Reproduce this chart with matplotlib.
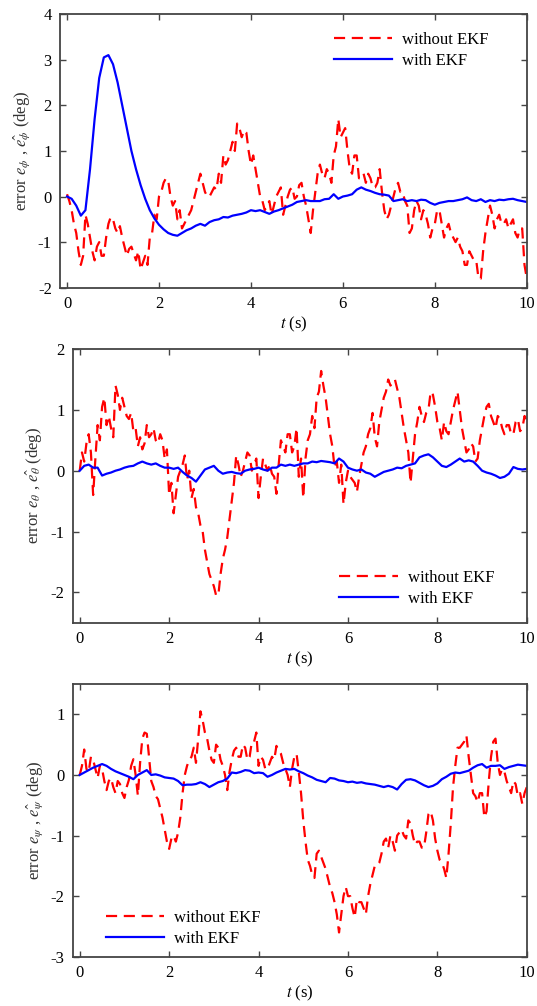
import numpy as np
import matplotlib
matplotlib.use("Agg")
import matplotlib.pyplot as plt

# ==========================================
# Data
# red (without EKF): 0.05 s step, blue (with EKF): 0.1 s step
# ==========================================
phi_no_ekf = [0.05, -0.1, -0.3, -0.6, -0.8, -1.2, -1.5, -1.3, -0.4, -0.6,
              -0.9, -1.2, -1.4, -1.1, -1.0, -1.3, -1.3, -0.9, -0.6, -0.45,
              -0.5, -0.7, -0.8, -0.65, -0.9, -1.1, -1.3, -1.15, -1.1, -1.25,
              -1.4, -1.2, -1.6, -1.45, -1.3, -1.5, -0.9, -0.8, -0.4, -0.5,
              0.0, 0.1, 0.3, 0.4, 0.35, 0.0, -0.2, -0.1, -0.5, -0.3,
              -0.7, -0.6, -0.5, -0.4, -0.3, -0.1, 0.1, 0.3, 0.5, 0.3,
              0.1, 0.0, 0.0, 0.1, 0.2, 0.15, 0.5, 0.3, 0.9, 0.7,
              0.8, 1.0, 1.2, 1.0, 1.6, 1.5, 1.3, 1.45, 1.4, 1.0,
              0.7, 0.9, 0.6, 0.3, 0.0, -0.1, -0.3, -0.2, -0.1, -0.4,
              -0.2, 0.0, 0.1, 0.2, -0.4, -0.2, 0.0, 0.15, 0.2, -0.05,
              0.0, 0.25, 0.3, 0.0, -0.2, -0.5, -0.8, -0.3, 0.1, 0.5,
              0.7, 0.5, 0.4, 0.6, 0.5, 0.3, 0.9, 1.1, 1.7, 1.3,
              1.4, 1.5, 1.0, 0.6, 0.5, 0.9, 0.9, 0.4, 0.4, 0.5,
              0.3, 0.5, 0.4, 0.2, 0.2, 0.3, 0.6, 0.1, -0.3, -0.5,
              -0.4, -0.2, 0.0, 0.2, 0.3, 0.1, 0.1, -0.1, -0.2, -0.8,
              -0.7, -0.3, -0.1, -0.2, -0.5, -0.3, -0.4, -0.6, -0.9, -0.7,
              -0.6, -0.3, -0.3, -0.6, -0.9, -0.7, -0.6, -0.8, -0.9, -1.0,
              -0.9, -1.1, -1.2, -1.5, -1.5, -1.2, -1.3, -1.4, -1.4, -1.8,
              -1.8, -1.2, -0.8, -0.5, -0.2, -0.4, -0.7, -0.5, -0.4, -0.6,
              -0.6, -0.5, -0.7, -0.6, -0.5, -0.8, -0.9, -0.7, -0.7, -1.5,
              -1.8]
phi_ekf = [0.0, -0.05, -0.2, -0.42, -0.3, 0.6, 1.7, 2.6, 3.05, 3.1,
           2.9, 2.5, 2.0, 1.5, 1.0, 0.6, 0.25, -0.05, -0.3, -0.48,
           -0.62, -0.72, -0.8, -0.84, -0.86, -0.8, -0.74, -0.7, -0.64, -0.6,
           -0.64, -0.56, -0.52, -0.5, -0.45, -0.46, -0.42, -0.4, -0.38, -0.35,
           -0.3, -0.32, -0.3, -0.34, -0.38, -0.33, -0.3, -0.26, -0.22, -0.18,
           -0.12, -0.1, -0.08, -0.1, -0.1, -0.1, -0.06, -0.05, 0.05, -0.05,
           0.0, 0.02, 0.05, 0.15, 0.2, 0.15, 0.12, 0.08, 0.05, 0.04,
           0.02, -0.1, -0.08, -0.06, -0.1, -0.08, -0.1, -0.07, -0.08, -0.14,
           -0.18, -0.14, -0.12, -0.1, -0.1, -0.08, -0.06, -0.02, -0.08, -0.1,
           -0.06, -0.12, -0.08, -0.1, -0.07, -0.08, -0.06, -0.05, -0.08, -0.1,
           -0.12]

theta_no_ekf = [0.0, 0.3, 0.15, 0.45, 0.6, 0.3, -0.4, 0.2, 0.75, 0.5,
                1.05, 1.2, 0.75, 0.9, 0.7, 0.55, 1.4, 1.25, 1.0, 1.2,
                1.05, 0.9, 0.85, 0.95, 0.65, 0.7, 0.4, 0.55, 0.35, 0.45,
                0.75, 0.55, 0.6, 0.7, 0.5, 0.45, 0.6, 0.5, 0.2, 0.35,
                -0.4, -0.2, -0.7, -0.4, -0.1, 0.0, 0.1, 0.25, -0.15, 0.0,
                -0.45, -0.3, -0.6, -0.7, -0.9, -1.0, -1.3, -1.5, -1.7, -1.8,
                -1.9, -2.05, -2.05, -1.7, -1.45, -1.3, -1.1, -0.8, -0.5, -0.2,
                0.25, 0.1, -0.1, 0.0, 0.15, 0.3, 0.25, 0.0, 0.1, 0.2,
                -0.45, -0.1, 0.2, 0.1, 0.0, 0.1, -0.05, -0.1, -0.38, 0.1,
                0.5, 0.4, 0.3, 0.6, 0.6, 0.3, 0.4, 0.7, -0.1, 0.2,
                -0.45, 0.2, 0.5, 0.6, 0.9, 0.7, 1.2, 1.3, 1.64, 1.4,
                1.2, 0.9, 0.6, 0.4, 0.05, 0.15, -0.2, 0.1, -0.55, -0.2,
                0.0, -0.1, -0.15, -0.2, -0.35, -0.1, 0.1, 0.3, 0.4, 0.6,
                0.7, 0.95, 0.55, 0.4, 0.8, 1.0, 1.2, 1.3, 1.5, 1.4,
                1.45, 1.5, 1.35, 1.2, 0.95, 0.7, 0.5, 0.3, -0.2, 0.2,
                0.6, 0.8, 1.05, 0.9, 0.8, 0.95, 1.0, 1.3, 1.25, 1.05,
                0.8, 0.7, 0.5, 0.8, 0.65, 0.6, 0.8, 1.0, 1.15, 1.3,
                1.0, 0.7, 0.5, 0.3, 0.35, 0.45, 0.4, 0.15, 0.2, 0.5,
                0.7, 0.9, 1.05, 1.1, 0.9, 0.8, 0.7, 0.9, 0.85, 0.7,
                0.6, 0.75, 0.75, 0.6, 0.6, 0.8, 0.85, 0.65, 0.7, 0.9,
                0.8]
theta_ekf = [0.0, 0.08, 0.1, 0.05, 0.05, -0.08, -0.05, -0.03, 0.0, 0.02,
             0.05, 0.07, 0.08, 0.12, 0.15, 0.12, 0.1, 0.12, 0.08, 0.05,
             0.05, 0.03, 0.05, -0.02, -0.08, -0.12, -0.18, -0.08, 0.02, 0.05,
             0.08, 0.0, -0.05, -0.03, -0.02, -0.04, -0.05, 0.0, 0.02, 0.03,
             0.05, 0.02, 0.0, 0.05, 0.05, 0.1, 0.08, 0.1, 0.08, 0.1,
             0.12, 0.12, 0.15, 0.14, 0.16, 0.15, 0.14, 0.12, 0.2, 0.15,
             0.05, 0.02, 0.0, 0.02, -0.03, -0.05, -0.1, -0.06, -0.02, 0.0,
             0.02, 0.05, 0.04, 0.08, 0.1, 0.12, 0.22, 0.25, 0.27, 0.22,
             0.15, 0.08, 0.06, 0.1, 0.15, 0.2, 0.15, 0.17, 0.15, 0.08,
             0.0, -0.03, -0.05, -0.08, -0.12, -0.1, -0.05, 0.06, 0.03, 0.02,
             0.03]

psi_no_ekf = [0.0, 0.15, 0.42, 0.1, 0.05, 0.3, 0.25, 0.1, -0.05, 0.15,
              0.1, -0.1, -0.25, -0.1, -0.05, -0.2, -0.3, -0.1, -0.15, -0.3,
              -0.38, -0.2, -0.08, 0.15, 0.26, 0.0, -0.34, 0.2, 0.6, 0.7,
              0.68, 0.3, -0.1, -0.2, -0.35, -0.4, -0.55, -0.7, -0.9, -1.1,
              -1.22, -1.05, -1.0, -1.1, -0.95, -0.7, -0.3, 0.0, 0.15, 0.25,
              0.3, 0.45, 0.2, 0.6, 1.05, 0.9, 0.7, 0.6, 0.4, 0.25,
              0.2, 0.5, 0.45, 0.25, 0.15, 0.0, -0.25, 0.05, 0.25, 0.4,
              0.45, 0.3, 0.3, 0.5, 0.45, 0.25, 0.3, 0.55, 0.55, 0.7,
              0.15, 0.3, 0.25, 0.1, 0.1, 0.2, 0.3, 0.25, 0.48, 0.4,
              0.35, 0.2, 0.1, 0.0, -0.2, 0.1, 0.3, 0.35, 0.05, -0.3,
              -0.75, -1.1, -1.4, -1.5, -1.65, -1.7, -1.3, -1.25, -1.35, -1.45,
              -1.55, -1.7, -1.85, -1.95, -2.1, -2.3, -2.6, -2.3, -2.0, -1.85,
              -2.0, -2.0, -2.2, -2.35, -2.05, -2.1, -2.1, -2.2, -2.3, -2.0,
              -1.8, -1.65, -1.5, -1.5, -1.45, -1.3, -1.1, -1.05, -1.2, -1.0,
              -1.1, -1.25, -1.0, -0.95, -0.9, -1.0, -1.05, -0.75, -0.8, -1.0,
              -1.15, -1.1, -1.1, -1.2, -1.2, -0.95, -0.65, -0.6, -0.75, -1.05,
              -1.25, -1.4, -1.45, -1.55, -1.7, -1.3, -0.8, -0.2, 0.15, 0.45,
              0.45, 0.5, 0.55, 0.65, 0.3, 0.0, -0.3, -0.35, -0.45, -0.3,
              -0.3, -0.7, -0.6, -0.1, 0.3, 0.55, 0.6, 0.2, 0.0, 0.1,
              0.05, -0.1, -0.2, -0.3, -0.1, -0.15, -0.35, -0.3, -0.48, -0.3,
              -0.2]
psi_ekf = [0.0, 0.04, 0.08, 0.12, 0.15, 0.18, 0.15, 0.1, 0.06, 0.03,
           0.0, -0.03, -0.07, 0.0, 0.04, 0.08, 0.0, 0.01, -0.01, -0.04,
           -0.05, -0.06, -0.1, -0.17, -0.16, -0.16, -0.15, -0.12, -0.15, -0.2,
           -0.16, -0.12, -0.1, -0.06, 0.04, 0.03, 0.05, 0.08, 0.07, 0.03,
           0.04, 0.03, -0.03, 0.0, 0.04, 0.07, 0.1, 0.09, 0.1, 0.06,
           0.03, -0.01, -0.04, -0.08, -0.1, -0.12, -0.05, -0.06, -0.09, -0.1,
           -0.12, -0.11, -0.13, -0.12, -0.14, -0.15, -0.16, -0.18, -0.2, -0.18,
           -0.2, -0.24, -0.15, -0.08, -0.07, -0.09, -0.13, -0.17, -0.2, -0.18,
           -0.14, -0.07, -0.03, 0.02, 0.04, 0.03, 0.05, 0.07, 0.12, 0.16,
           0.18, 0.12, 0.15, 0.15, 0.16, 0.1, 0.13, 0.15, 0.17, 0.16,
           0.15]

ylabels = [r"error $e_\phi$ , $\hat{e_\phi}$ (deg)",
           r"error $e_\theta$ , $\hat{e_\theta}$ (deg)",
           r"error $e_\psi$ , $\hat{e_\psi}$ (deg)"]
yticks_list = [[-2, -1, 0, 1, 2, 3, 4], [-2, -1, 0, 1, 2], [-3, -2, -1, 0, 1]]
ylims = [(-2, 4), (-2.5, 2), (-3, 1.5)]
xticks = [0, 2, 4, 6, 8, 10]

# ==========================================
# Style
# ==========================================
plt.rcParams["font.family"] = ["Liberation Serif", "DejaVu Serif"]
plt.rcParams["mathtext.fontset"] = "stix"
plt.rcParams["axes.unicode_minus"] = False
plt.rcParams["font.size"] = 12

fig = plt.figure(figsize=(5.37, 10.06), dpi=100)

# axes boxes in figure fractions [left, bottom, width, height]
boxes = [[0.112, 0.714, 0.869, 0.272],
         [0.136, 0.381, 0.845, 0.272],
         [0.136, 0.049, 0.845, 0.271]]
legend_locs = ["upper right", "lower right", "lower left"]
legend_anchors = [(0.94, 0.97), (0.95, 0.02), (0.05, 0.0)]

panels = [(phi_no_ekf, phi_ekf), (theta_no_ekf, theta_ekf), (psi_no_ekf, psi_ekf)]

for i, (no_ekf, ekf) in enumerate(panels):
    ax = fig.add_axes(boxes[i])
    t1 = np.linspace(0, 10, len(no_ekf))
    t2 = np.linspace(0, 10, len(ekf))
    ax.plot(t1, no_ekf, color="#ff0000", lw=1.6, dashes=(5, 3),
            label="without EKF")
    ax.plot(t2, ekf, color="#0000ff", lw=1.6, label="with EKF")

    ax.set_xlim(-0.15, 10)
    ax.set_ylim(*ylims[i])
    ax.set_xticks(xticks)
    ax.set_yticks(yticks_list[i])
    ax.tick_params(direction="in", top=True, right=True, length=4,
                   width=1.0, color="#444444", labelsize=12, pad=6)
    for s in ax.spines.values():
        s.set_color("#444444")
        s.set_linewidth(1.3)
    ax.set_xlabel(r"$t$ (s)", fontsize=12, labelpad=2)
    ax.set_ylabel(ylabels[i], fontsize=12, color="#333333")
    ax.legend(loc=legend_locs[i], bbox_to_anchor=legend_anchors[i],
              frameon=False, fontsize=12, handlelength=3.5,
              handletextpad=0.6, labelspacing=0.3, borderaxespad=0.2)

fig.savefig("out.png", dpi=100)
